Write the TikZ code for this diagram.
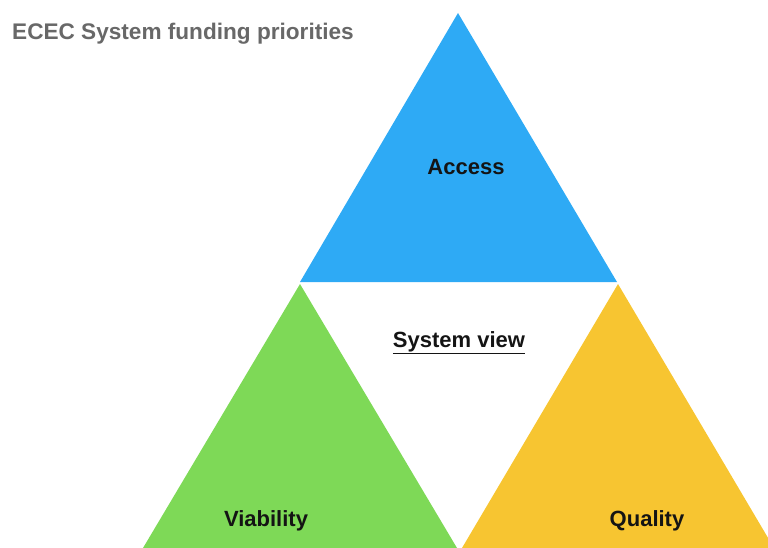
\documentclass[tikz,border=0pt]{standalone}
\usepackage{fontspec}
\setmainfont{Liberation Sans}
\usepackage{tikz}
\definecolor{accessblue}{RGB}{46,170,245}
\definecolor{viagreen}{RGB}{126,217,87}
\definecolor{qualyellow}{RGB}{247,197,49}
\definecolor{titlegray}{RGB}{104,104,104}
\tikzset{label/.style={font=\fontsize{22}{26}\selectfont\bfseries, text=black!92, inner sep=0pt}}

\begin{document}
\begin{tikzpicture}[x=1pt, y=-1pt]
\useasboundingbox (0,0) rectangle (768,548);
\clip (0,0) rectangle (768,548);
\coordinate (acc top) at (458,13);
\coordinate (acc left) at (300,282);
\coordinate (acc right) at (617,282);
\coordinate (via top) at (300,284);
\coordinate (via left) at (143,548);
\coordinate (via right) at (457,548);
\coordinate (qual top) at (618,284);
\coordinate (qual left) at (462,548);
\coordinate (qual right) at (774,548);

\fill[accessblue] (acc top) -- (acc left) -- (acc right) -- cycle;
\fill[viagreen] (via top) -- (via left) -- (via right) -- cycle;
\fill[qualyellow] (qual top) -- (qual left) -- (qual right) -- cycle;

\node[label, text=titlegray, anchor=west, font=\fontsize{22.6}{26}\selectfont\bfseries] (title) at (12,34) {ECEC System funding priorities};
\node[label] (access) at (466,167) {Access};
\node[label] (system) at (459,343) {\underline{System view}};
\node[label] (viability) at (266,521) {Viability};
\node[label] (quality) at (647,521) {Quality};
\end{tikzpicture}
\end{document}
